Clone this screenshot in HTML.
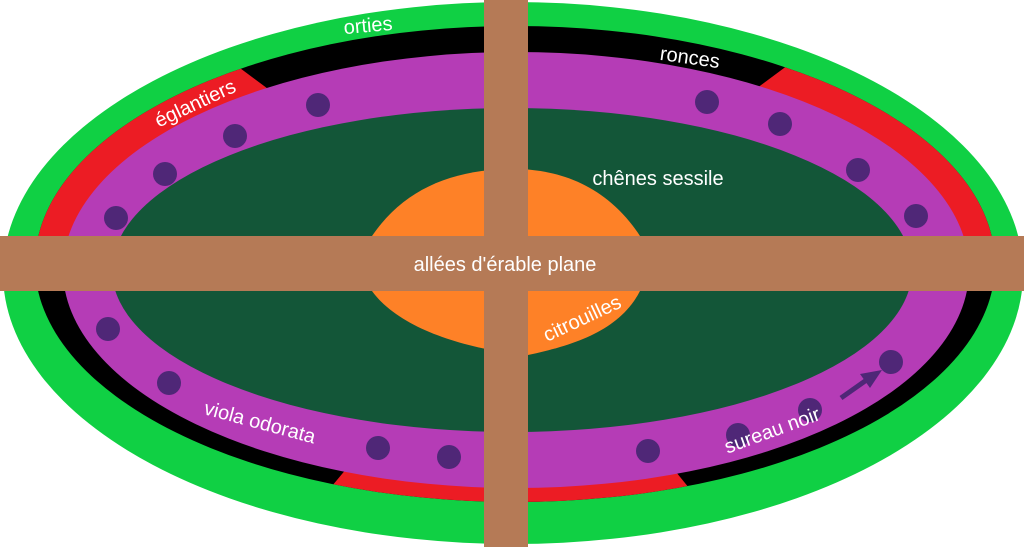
<!DOCTYPE html>
<html><head><style>html,body{margin:0;padding:0;background:#fff;overflow:hidden;width:1024px;height:547px}svg{display:block}</style></head>
<body>
<svg width="1024" height="547" viewBox="0 0 1024 547" xmlns="http://www.w3.org/2000/svg" font-family="Liberation Sans, sans-serif" fill="#fff">
<defs>
<clipPath id="ring"><ellipse cx="515" cy="264" rx="480" ry="238"/></clipPath>
</defs>
<ellipse cx="513" cy="273" rx="510" ry="271" fill="#10d044"/>
<ellipse cx="515" cy="264" rx="480" ry="238" fill="#000"/>
<g clip-path="url(#ring)" fill="#ec1c24">
<polygon points="512,270 0,291 0,-50 81,-50"/>
<polygon points="512,270 943,-50 1100,-50 1100,250"/>
<polygon points="512,270 237,600 780,600"/>
</g>
<ellipse cx="516" cy="270" rx="453" ry="218" fill="#b53cb6"/>
<ellipse cx="512" cy="270" rx="400" ry="162" fill="#135638"/>
<path d="M372,236 C400,195 440,175 490,170 C540,165 600,175 640,236 L640,291 C620,330 575,345 528,355 C470,350 400,330 372,291 Z" fill="#fe8127"/>
<g fill="#4f2777">
<circle cx="318" cy="105" r="12"/><circle cx="235" cy="136" r="12"/><circle cx="165" cy="174" r="12"/><circle cx="116" cy="218" r="12"/>
<circle cx="108" cy="329" r="12"/><circle cx="169" cy="383" r="12"/><circle cx="378" cy="448" r="12"/><circle cx="449" cy="457" r="12"/>
<circle cx="648" cy="451" r="12"/><circle cx="738" cy="435" r="12"/><circle cx="810" cy="410" r="12"/><circle cx="891" cy="362" r="12"/>
<circle cx="916" cy="216" r="12"/><circle cx="858" cy="170" r="12"/><circle cx="780" cy="124" r="12"/><circle cx="707" cy="102" r="12"/>
</g>
<line x1="841" y1="398" x2="868" y2="379" stroke="#4f2777" stroke-width="5"/>
<polygon points="882,370 860,374 870,388" fill="#4f2777"/>
<rect x="484" y="0" width="44" height="547" fill="#b57a56"/>
<rect x="0" y="236" width="1024" height="55" fill="#b57a56"/>
<g font-size="20">
<text x="368" y="32" text-anchor="middle" transform="rotate(-5 368 25)">orties</text>
<text x="690" y="64" text-anchor="middle" transform="rotate(8 690 57)">ronces</text>
<text x="195" y="110" text-anchor="middle" transform="rotate(-25 195 103)">églantiers</text>
<text x="658" y="185" text-anchor="middle">chênes sessile</text>
<text x="505" y="271" text-anchor="middle">allées d'érable plane</text>
<text x="582" y="325" text-anchor="middle" transform="rotate(-25 582 318)">citrouilles</text>
<text x="260" y="429" text-anchor="middle" transform="rotate(15 260 422)">viola odorata</text>
<text x="772" y="437" text-anchor="middle" transform="rotate(-20 772 430)">sureau noir</text>
</g>
</svg>
</body></html>
